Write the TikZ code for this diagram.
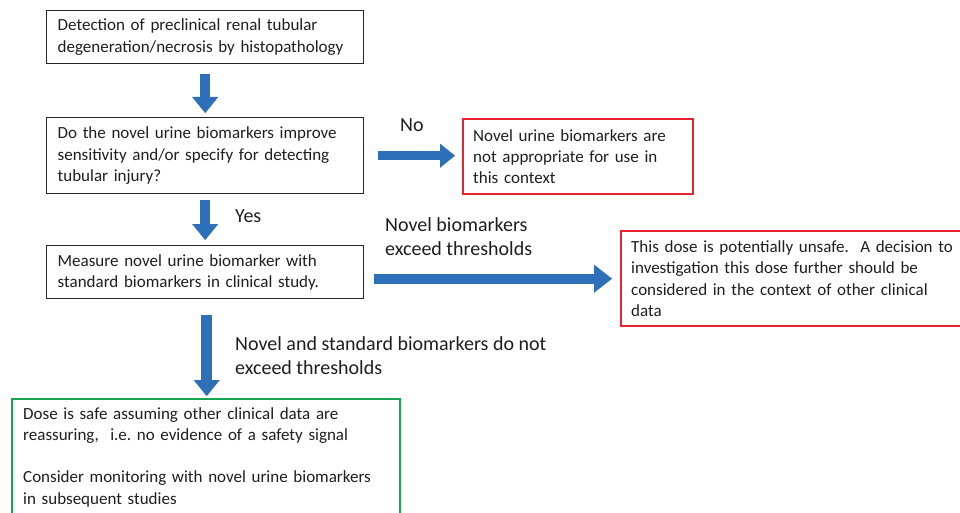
\documentclass[tikz,border=0pt]{standalone}
\usepackage{fontspec}
\setmainfont{Carlito}
\usetikzlibrary{arrows.meta,calc}
\definecolor{arrowblue}{HTML}{2E70B8}
\definecolor{boxred}{HTML}{E8252F}
\definecolor{boxgreen}{HTML}{14A651}
\definecolor{txt}{HTML}{1E1E1E}
\frenchspacing
\tikzset{
  boxtext/.style={font=\fontsize{17}{21.3}\selectfont\frenchspacing, text=txt, align=left, anchor=north west, inner ysep=0pt},
  blackbox/.style={boxtext, draw=black!85, line width=1.4pt, inner xsep=11pt},
  redbox/.style={boxtext, draw=boxred, line width=2.4pt, inner xsep=10pt},
  greenbox/.style={boxtext, draw=boxgreen, line width=2.4pt, inner xsep=11pt, inner ysep=8pt},
  lbl/.style={font=\fontsize{20}{24}\selectfont\frenchspacing, text=txt, align=left, anchor=base west, inner sep=0pt},
  vbar/.style={draw=arrowblue, line width=10pt, -{Triangle[width=26pt,length=16pt,line width=0.1pt]}},
  hbar/.style={draw=arrowblue, line width=9pt, -{Triangle[width=24pt,length=15pt,line width=0.1pt]}},
  hbarlong/.style={draw=arrowblue, line width=10pt, -{Triangle[width=28pt,length=18pt,line width=0.1pt]}},
}
\begin{document}
\begin{tikzpicture}[x=1pt,y=1pt]
\useasboundingbox (0,0) rectangle (960,-513);
\clip (0,0) rectangle (960,-513);

\node[blackbox, minimum width=317pt, minimum height=53pt, text width=295pt] (b1) at (46,-10)
  {Detection of preclinical renal tubular\\degeneration/necrosis by histopathology};
\node[blackbox, minimum width=317pt, minimum height=76pt, text width=295pt] (b2) at (46,-117)
  {Do the novel urine biomarkers improve\\sensitivity and/or specify for detecting\\tubular injury?};
\node[blackbox, minimum width=317pt, minimum height=53pt, text width=295pt] (b3) at (46,-245)
  {Measure novel urine biomarker with\\standard biomarkers in clinical study.};
\node[redbox, minimum width=230pt, minimum height=75pt, text width=210pt] (r1) at (462,-118)
  {Novel urine biomarkers are\\not appropriate for use in\\this context};
\node[redbox, minimum width=345pt, minimum height=95pt, text width=325pt] (r2) at (620,-230)
  {\mbox{This dose is potentially unsafe.\ \ A decision to}\\investigation this dose further should be\\considered in the context of other clinical\\data};
\node[greenbox, minimum width=388pt, text width=366pt] (g) at (11,-398)
  {Dose is safe assuming other clinical data are\\reassuring,\ \ i.e. no evidence of a safety signal\\[21.3pt]Consider monitoring with novel urine biomarkers\\in subsequent studies};

\node[lbl] (no) at (400,-132) {No};
\node[lbl] (yes) at (235,-222) {Yes};
\node[lbl] (exc) at (385,-255) {Novel biomarkers\\exceed thresholds};
\node[lbl] (notexc) at (235,-374) {Novel and standard biomarkers do not\\exceed thresholds};

\draw[vbar, shorten <=10pt, shorten >=4pt] (b1.south) -- (b2.north);
\draw[vbar, shorten <=6pt, shorten >=5pt] (b2.south) -- (b3.north);
\draw[hbar, shorten <=14pt, shorten >=7pt] (b2.east) -- (b2.east -| r1.west);
\draw[hbarlong, shorten <=10pt, shorten >=8pt] (b3.east |- r2.west) -- (r2.west);
\draw[vbar, line width=11pt, shorten <=16pt, shorten >=2pt] ($(b3.south)+(1.5,0)$) coordinate (a4s) -- (a4s |- g.north);
\end{tikzpicture}
\end{document}
